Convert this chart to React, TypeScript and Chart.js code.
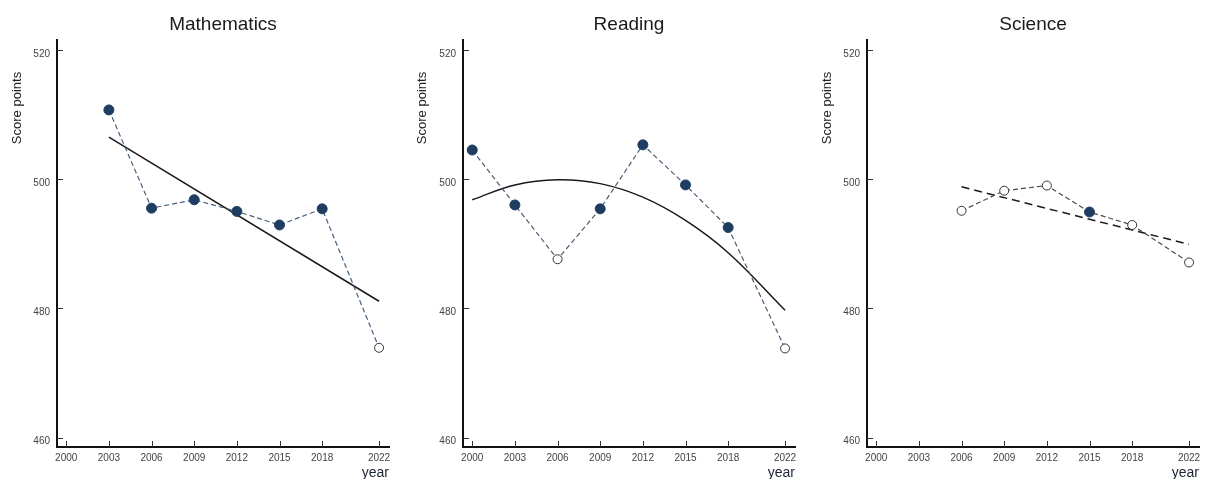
import React, { useEffect, useRef } from 'react';
import { Chart, registerables } from 'chart.js';

Chart.register(...registerables);

const FONT = '"Liberation Sans", Arial, Helvetica, sans-serif';

// Axis ticks
const xTickYears = [2000, 2003, 2006, 2009, 2012, 2015, 2018, 2022];
const yTickValues = [460, 480, 500, 520];
const yAxisLabel = 'Score points';
const xAxisLabel = 'year';

// Mathematics
const mathYears = [2003, 2006, 2009, 2012, 2015, 2018, 2022];
const mathScores = [510.7, 495.5, 496.8, 495.0, 492.9, 495.4, 473.9];
const mathFilled = [true, true, true, true, true, true, false];
const mathTrendYears = [2003, 2022];
const mathTrendValues = [506.5, 481.1];

// Reading
const readingYears = [2000, 2003, 2006, 2009, 2012, 2015, 2018, 2022];
const readingScores = [504.5, 496.0, 487.6, 495.4, 505.3, 499.1, 492.5, 473.8];
const readingFilled = [true, true, false, true, true, true, true, false];
const readingTrendYears = [2000, 2003, 2006, 2009, 2012, 2015, 2018, 2022];
const readingTrendValues = [496.8, 499.1, 499.9, 499.3, 497.2, 493.6, 488.6, 479.7];

// Science
const scienceYears = [2006, 2009, 2012, 2015, 2018, 2022];
const scienceScores = [495.1, 498.2, 499.0, 494.9, 492.9, 487.1];
const scienceFilled = [false, false, false, true, false, false];
const scienceTrendYears = [2006, 2022];
const scienceTrendValues = [498.8, 489.9];

const NAVY = '#1f3d61';

type Panel = {
  title: string;
  left: number;
  width: number;
  chartLeft: number;
  padRight: number;
  labelX: number;
  years: number[];
  scores: number[];
  filled: boolean[];
  trendYears: number[];
  trendValues: number[];
  trendDash: number[];
  trendTension: number;
  connectorColor: string;
};

const panels: Panel[] = [
  {
    title: 'Mathematics', left: 0, width: 402, chartLeft: 57, padRight: 13, labelX: 17.5,
    years: mathYears, scores: mathScores, filled: mathFilled,
    trendYears: mathTrendYears, trendValues: mathTrendValues, trendDash: [], trendTension: 0,
    connectorColor: '#45617f',
  },
  {
    title: 'Reading', left: 402, width: 403, chartLeft: 61, padRight: 10, labelX: 20,
    years: readingYears, scores: readingScores, filled: readingFilled,
    trendYears: readingTrendYears, trendValues: readingTrendValues, trendDash: [], trendTension: 0.4,
    connectorColor: '#4a5e74',
  },
  {
    title: 'Science', left: 805, width: 403, chartLeft: 62, padRight: 9, labelX: 22.5,
    years: scienceYears, scores: scienceScores, filled: scienceFilled,
    trendYears: scienceTrendYears, trendValues: scienceTrendValues, trendDash: [8, 5], trendTension: 0,
    connectorColor: '#4a4a4a',
  },
];

const decorPlugin = {
  id: 'decor',
  afterDraw(chart: any, _args: any, opts: any) {
    const { ctx, chartArea, scales } = chart;
    ctx.save();
    ctx.strokeStyle = '#333';
    ctx.lineWidth = 1;
    ctx.beginPath();
    xTickYears.forEach((v) => {
      const px = Math.round(scales.x.getPixelForValue(v)) + 0.5;
      ctx.moveTo(px, chartArea.bottom);
      ctx.lineTo(px, chartArea.bottom - 6);
    });
    yTickValues.forEach((v) => {
      const py = Math.round(scales.y.getPixelForValue(v)) + 0.5;
      ctx.moveTo(chartArea.left, py);
      ctx.lineTo(chartArea.left + 6, py);
    });
    ctx.stroke();
    ctx.translate(opts.labelX, opts.labelY);
    ctx.rotate(-Math.PI / 2);
    ctx.font = `13px ${FONT}`;
    ctx.fillStyle = '#222';
    ctx.textAlign = 'center';
    ctx.textBaseline = 'middle';
    ctx.fillText(yAxisLabel, 0, 0);
    ctx.restore();
  },
};

function PanelChart({ p }: { p: Panel }) {
  const ref = useRef<HTMLCanvasElement>(null);
  useEffect(() => {
    if (!ref.current) return;
    const chart = new Chart(ref.current, {
      type: 'line',
      data: {
        datasets: [
          {
            data: p.years.map((y, i) => ({ x: y, y: p.scores[i] })),
            borderColor: p.connectorColor,
            borderWidth: 1.2,
            borderDash: [5, 3],
            pointRadius: p.filled.map((f) => (f ? 5 : 4.5)),
            pointBackgroundColor: p.filled.map((f) => (f ? NAVY : '#ffffff')),
            pointBorderColor: p.filled.map((f) => (f ? NAVY : '#333333')),
            pointBorderWidth: 1,
            tension: 0,
            fill: false,
          },
          {
            data: p.trendYears.map((y, i) => ({ x: y, y: p.trendValues[i] })),
            borderColor: '#1a1a1a',
            borderWidth: 1.5,
            borderDash: p.trendDash,
            pointRadius: 0,
            tension: p.trendTension,
            fill: false,
          },
        ],
      },
      options: {
        responsive: false,
        animation: false,
        devicePixelRatio: 1,
        layout: { padding: { left: 0, right: p.padRight, top: 0, bottom: 0 } },
        plugins: {
          legend: { display: false },
          tooltip: { enabled: false },
          title: {
            display: true,
            text: p.title,
            fullSize: false,
            color: '#1a1a1a',
            font: { family: FONT, size: 19, weight: 'normal' },
            padding: { top: 13, bottom: 4 },
          },
          decor: { labelX: p.labelX, labelY: 108 },
        } as any,
        scales: {
          x: {
            type: 'linear',
            min: 1999.35,
            max: 2022.7,
            afterBuildTicks: (scale: any) => {
              scale.ticks = xTickYears.map((v) => ({ value: v }));
            },
            afterFit: (scale: any) => {
              scale.height = 32;
            },
            grid: { display: false, drawTicks: false },
            border: { display: true, color: '#111', width: 2 },
            ticks: {
              callback: (v: any) => String(v),
              color: '#444',
              font: { family: FONT, size: 10 },
              padding: 5,
              maxRotation: 0,
              autoSkip: false,
            },
            title: {
              display: true,
              text: xAxisLabel,
              align: 'end',
              color: '#1c2433',
              font: { family: FONT, size: 14 },
              padding: { top: 0, bottom: -3 },
            },
          },
          y: {
            type: 'linear',
            min: 458.55,
            max: 521.55,
            afterBuildTicks: (scale: any) => {
              scale.ticks = yTickValues.map((v) => ({ value: v }));
            },
            afterFit: (scale: any) => {
              scale.width = p.chartLeft;
            },
            grid: { display: false, drawTicks: false },
            border: { display: true, color: '#111', width: 2 },
            ticks: {
              callback: (v: any) => String(v),
              color: '#444',
              font: { family: FONT, size: 10 },
              padding: 7,
              labelOffset: 4,
            },
          },
        },
      } as any,
      plugins: [decorPlugin],
    });
    return () => chart.destroy();
  }, [p]);
  return (
    <canvas
      ref={ref}
      width={p.width}
      height={479}
      style={{ position: 'absolute', left: p.left, top: 0, width: p.width, height: 479 }}
    />
  );
}

export default function App() {
  return (
    <div style={{ position: 'absolute', left: 0, top: 0, width: 1208, height: 479, background: '#fff', overflow: 'hidden' }}>
      {panels.map((p) => (
        <PanelChart key={p.title} p={p} />
      ))}
    </div>
  );
}
